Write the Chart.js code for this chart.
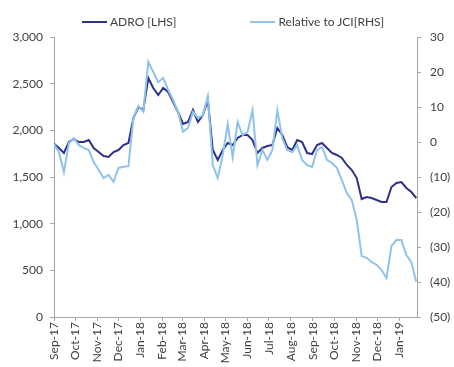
<!DOCTYPE html>
<html>
<head>
<meta charset="utf-8">
<script src="https://cdn.jsdelivr.net/npm/chart.js@4"></script>
<style>
  html, body { margin: 0; padding: 0; background: #fff; }
  #wrap { width: 454px; height: 367px; position: relative; }
  #legend {
    position: absolute; top: 15px; left: 82px;
    display: flex; align-items: center;
    font: 12px Lato, "Liberation Sans", sans-serif; line-height: 14px;
    color: #404040; white-space: nowrap;
  }
  #legend .item { display: flex; align-items: center; }
  #legend .item + .item { margin-left: 74px; }
  #legend .swatch { width: 25px; height: 2px; margin-right: 3px; }
</style>
</head>
<body>
<div id="wrap">
  <canvas id="chart"></canvas>
  <div id="legend"></div>
</div>
<script>
// Weekly observations (Fridays)
const dates = [
    '2017-09-01', '2017-09-08', '2017-09-15', '2017-09-22', '2017-09-29',
    '2017-10-06', '2017-10-13', '2017-10-20', '2017-10-27',
    '2017-11-03', '2017-11-10', '2017-11-17', '2017-11-24',
    '2017-12-01', '2017-12-08', '2017-12-15', '2017-12-22', '2017-12-29',
    '2018-01-05', '2018-01-12', '2018-01-19', '2018-01-26',
    '2018-02-02', '2018-02-09', '2018-02-16', '2018-02-23',
    '2018-03-02', '2018-03-09', '2018-03-16', '2018-03-23', '2018-03-30',
    '2018-04-06', '2018-04-13', '2018-04-20', '2018-04-27',
    '2018-05-04', '2018-05-11', '2018-05-18', '2018-05-25',
    '2018-06-01', '2018-06-08', '2018-06-15', '2018-06-22', '2018-06-29',
    '2018-07-06', '2018-07-13', '2018-07-20', '2018-07-27',
    '2018-08-03', '2018-08-10', '2018-08-17', '2018-08-24', '2018-08-31',
    '2018-09-07', '2018-09-14', '2018-09-21', '2018-09-28',
    '2018-10-05', '2018-10-12', '2018-10-19', '2018-10-26',
    '2018-11-02', '2018-11-09', '2018-11-16', '2018-11-23', '2018-11-30',
    '2018-12-07', '2018-12-14', '2018-12-21', '2018-12-28',
    '2019-01-04', '2019-01-11', '2019-01-18', '2019-01-25'
];

// ADRO share price (LHS)
const adro = [
    1855, 1810, 1757, 1875, 1907,
    1875, 1875, 1896, 1811,
    1768, 1725, 1714, 1768,
    1789, 1843, 1864, 2132, 2250,
    2218, 2561, 2454, 2379,
    2454, 2411, 2304, 2196,
    2068, 2089, 2218, 2089, 2164,
    2325, 1789, 1682, 1789,
    1864, 1843, 1918, 1950,
    1950, 1896, 1757, 1811, 1832,
    1843, 2025, 1950, 1821,
    1789, 1896, 1875, 1757, 1746,
    1843, 1864, 1811, 1757,
    1736, 1704, 1629, 1575,
    1489, 1264, 1286, 1275, 1254,
    1232, 1232, 1393, 1436,
    1446, 1382, 1339, 1275
];

// Performance relative to JCI, % (RHS)
const relJci = [
    -0.6, -2.9, -8.6, -0.3, 1.1,
    -0.9, -1.7, -2.3, -5.7,
    -8.0, -10.3, -9.4, -11.4,
    -7.4, -7.1, -6.9, 6.9, 10.3,
    8.6, 22.9, 20.0, 17.1,
    18.3, 14.9, 12.0, 8.6,
    2.9, 4.0, 8.6, 6.9, 7.7,
    13.1, -6.6, -10.3, -3.7,
    5.1, -4.3, 5.7, 2.0,
    2.9, 9.1, -6.6, -2.3, -5.1,
    -2.3, 9.1, 1.1, -2.3,
    -2.9, -0.9, -5.1, -6.6, -7.1,
    -2.3, -1.4, -5.1, -6.0,
    -7.4, -10.9, -14.6, -16.6,
    -22.3, -32.6, -33.1, -34.3, -35.1,
    -36.6, -38.9, -29.7, -28.0,
    -28.0, -32.3, -34.3, -40.0
];

// Axis ticks
const monthTicks = [
    '2017-09-01', '2017-10-01', '2017-11-01', '2017-12-01', '2018-01-01',
    '2018-02-01', '2018-03-01', '2018-04-01', '2018-05-01', '2018-06-01',
    '2018-07-01', '2018-08-01', '2018-09-01', '2018-10-01', '2018-11-01',
    '2018-12-01', '2019-01-01'
];
const monthLabels = [
    'Sep-17', 'Oct-17', 'Nov-17', 'Dec-17', 'Jan-18', 'Feb-18', 'Mar-18',
    'Apr-18', 'May-18', 'Jun-18', 'Jul-18', 'Aug-18', 'Sep-18', 'Oct-18',
    'Nov-18', 'Dec-18', 'Jan-19'
];
const axisStart = '2017-09-01';
const axisEnd = '2019-01-26';

const dayOf = d => (Date.parse(d) - Date.parse(axisStart)) / 86400000;

const textColor = '#404040';
const axisColor = '#a6a6a6';
const darkBlue = '#2e3188';
const lightBlue = '#8fc3ec';

Chart.defaults.font.family = 'Lato, "Liberation Sans", sans-serif';
Chart.defaults.font.size = 12;
Chart.defaults.color = textColor;

const ctx = document.getElementById('chart').getContext('2d');

const chart = new Chart(ctx, {
    type: 'line',
    data: {
        datasets: [
            {
                label: 'ADRO [LHS]',
                data: dates.map((d, i) => ({ x: dayOf(d), y: adro[i] })),
                borderColor: darkBlue,
                backgroundColor: darkBlue,
                borderWidth: 2,
                pointRadius: 0,
                tension: 0,
                yAxisID: 'y',
                order: 1
            },
            {
                label: 'Relative to JCI[RHS]',
                data: dates.map((d, i) => ({ x: dayOf(d), y: relJci[i] })),
                borderColor: lightBlue,
                backgroundColor: lightBlue,
                borderWidth: 2,
                pointRadius: 0,
                tension: 0,
                yAxisID: 'y2',
                order: 0
            }
        ]
    },
    options: {
        responsive: true,
        maintainAspectRatio: false,
        animation: false,
        layout: {
            padding: { top: 37, left: 0, right: 0, bottom: 0 }
        },
        plugins: {
            legend: { display: false },
            tooltip: { enabled: false }
        },
        scales: {
            x: {
                type: 'linear',
                min: dayOf(axisStart),
                max: dayOf(axisEnd),
                afterBuildTicks: axis => {
                    axis.ticks = monthTicks.map(d => ({ value: dayOf(d) }));
                },
                afterFit: axis => { axis.height = 50; },
                ticks: {
                    autoSkip: false,
                    minRotation: 90,
                    maxRotation: 90,
                    padding: 1,
                    callback: (value, index) => monthLabels[index]
                },
                grid: {
                    drawOnChartArea: false,
                    drawTicks: true,
                    tickLength: 4,
                    color: axisColor
                },
                border: { color: axisColor }
            },
            y: {
                position: 'left',
                min: 0,
                max: 3000,
                afterFit: axis => { axis.width = 54; },
                ticks: {
                    stepSize: 500,
                    padding: 7,
                    callback: v => v.toLocaleString('en-US')
                },
                grid: {
                    drawOnChartArea: false,
                    tickLength: 4,
                    color: axisColor
                },
                border: { color: axisColor }
            },
            y2: {
                position: 'right',
                min: -50,
                max: 30,
                afterFit: axis => { axis.width = 37; },
                ticks: {
                    stepSize: 10,
                    padding: 9,
                    callback: v => v < 0 ? '(' + (-v) + ')' : String(v)
                },
                grid: {
                    drawOnChartArea: false,
                    tickLength: 4,
                    color: axisColor
                },
                border: { color: axisColor }
            }
        }
    }
});

// HTML legend built from the dataset definitions
const legendEl = document.getElementById('legend');
chart.data.datasets.forEach(ds => {
    const item = document.createElement('div');
    item.className = 'item';
    const swatch = document.createElement('span');
    swatch.className = 'swatch';
    swatch.style.background = ds.borderColor;
    const label = document.createElement('span');
    label.textContent = ds.label;
    item.appendChild(swatch);
    item.appendChild(label);
    legendEl.appendChild(item);
});
</script>
</body>
</html>
